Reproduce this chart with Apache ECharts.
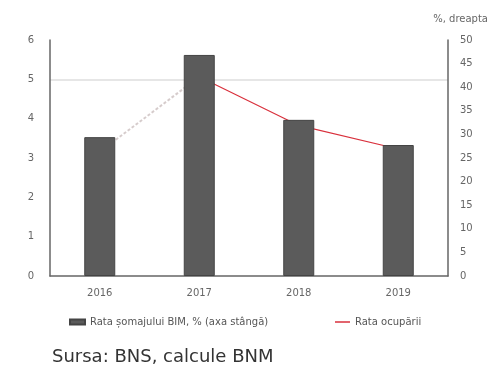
<!DOCTYPE html>
<html>
<head>
<meta charset="utf-8">
<script src="https://cdn.jsdelivr.net/npm/echarts@6/dist/echarts.min.js"></script>
<style>
  html, body { margin: 0; padding: 0; background: #fff; }
  #chart { width: 494px; height: 370px; }
</style>
</head>
<body>
<div id="chart"></div>
<script>
// Categories and series values
const categories = ['2016', '2017', '2018', '2019'];
const barValues = [3.53, 5.62, 3.97, 3.33];   // left axis
const lineValues = [26.3, 42.2, 31.9, 26.9];  // right axis
const leftTicks = { min: 0, max: 6, interval: 1 };
const rightTicks = { min: 0, max: 50, interval: 5 };
const barName = 'Rata șomajului BIM, % (axa stângă)';
const lineName = 'Rata ocupării';

const chart = echarts.init(document.getElementById('chart'));
const axisText = { color: '#666', fontSize: 10, fontFamily: 'DejaVu Sans' };
const legendText = { color: '#555', fontSize: 10, fontFamily: 'DejaVu Sans' };

// the rising first segment is drawn in a paler, dashed tone
const firstSeg = lineValues.map((v, i) => (i <= 1 ? v : null));
const restSeg = lineValues.map((v, i) => (i >= 1 ? v : null));

// only one faint horizontal guide, at level 5 of the left axis
const guideColors = leftTicks.max - leftTicks.min + 1;
const splitColors = Array.from({ length: guideColors }, (_, i) =>
  i === 5 ? '#e6e6e6' : 'rgba(0,0,0,0)');

chart.setOption({
  animation: false,
  grid: { left: 50, right: 46, top: 40, bottom: 94 },
  legend: [
    {
      bottom: 38, left: 64,
      itemWidth: 15, itemHeight: 5,
      textStyle: legendText,
      data: [{ name: barName, icon: 'rect' }]
    },
    {
      bottom: 38, left: 330,
      itemWidth: 15, itemHeight: 5,
      textStyle: legendText,
      data: [{ name: lineName, icon: 'path://M0,0 L20,0 L20,2 L0,2 Z', itemStyle: { color: '#d9303c' } }]
    }
  ],
  graphic: [
    {
      type: 'text', left: 52, top: 348,
      style: { text: 'Sursa: BNS, calcule BNM', fill: '#333', font: '18px "DejaVu Sans"' }
    },
    {
      type: 'text', right: 6, top: 14,
      style: { text: '%, dreapta', fill: '#666', font: '10px "DejaVu Sans"' }
    }
  ],
  xAxis: {
    type: 'category',
    data: categories,
    axisLine: { lineStyle: { color: '#666', width: 1.5 } },
    axisTick: { show: false },
    axisLabel: Object.assign({ margin: 12 }, axisText)
  },
  yAxis: [
    {
      type: 'value',
      min: leftTicks.min, max: leftTicks.max, interval: leftTicks.interval,
      axisLine: { show: true, lineStyle: { color: '#666', width: 1.5 } },
      axisTick: { show: false },
      axisLabel: Object.assign({ margin: 16 }, axisText),
      splitLine: { show: true, lineStyle: { color: splitColors, width: 2 } }
    },
    {
      type: 'value',
      position: 'right',
      min: rightTicks.min, max: rightTicks.max, interval: rightTicks.interval,
      axisLine: { show: true, lineStyle: { color: '#666', width: 1.5 } },
      axisTick: { show: false },
      axisLabel: Object.assign({ margin: 12 }, axisText),
      splitLine: { show: false }
    }
  ],
  series: [
    {
      name: lineName,
      type: 'line',
      yAxisIndex: 1,
      data: restSeg,
      symbol: 'none',
      z: 1,
      lineStyle: { color: '#d9303c', width: 1.2 },
      itemStyle: { color: '#d9303c' }
    },
    {
      name: lineName,
      type: 'line',
      yAxisIndex: 1,
      data: firstSeg,
      symbol: 'none',
      z: 1,
      lineStyle: { color: '#d6cccc', width: 2, type: [3, 2] },
      itemStyle: { color: '#d9303c' }
    },
    {
      name: barName,
      type: 'bar',
      yAxisIndex: 0,
      data: barValues,
      barWidth: 31,
      z: 3,
      itemStyle: { color: '#5b5b5b', borderColor: '#444', borderWidth: 1 }
    }
  ]
});
</script>
</body>
</html>
